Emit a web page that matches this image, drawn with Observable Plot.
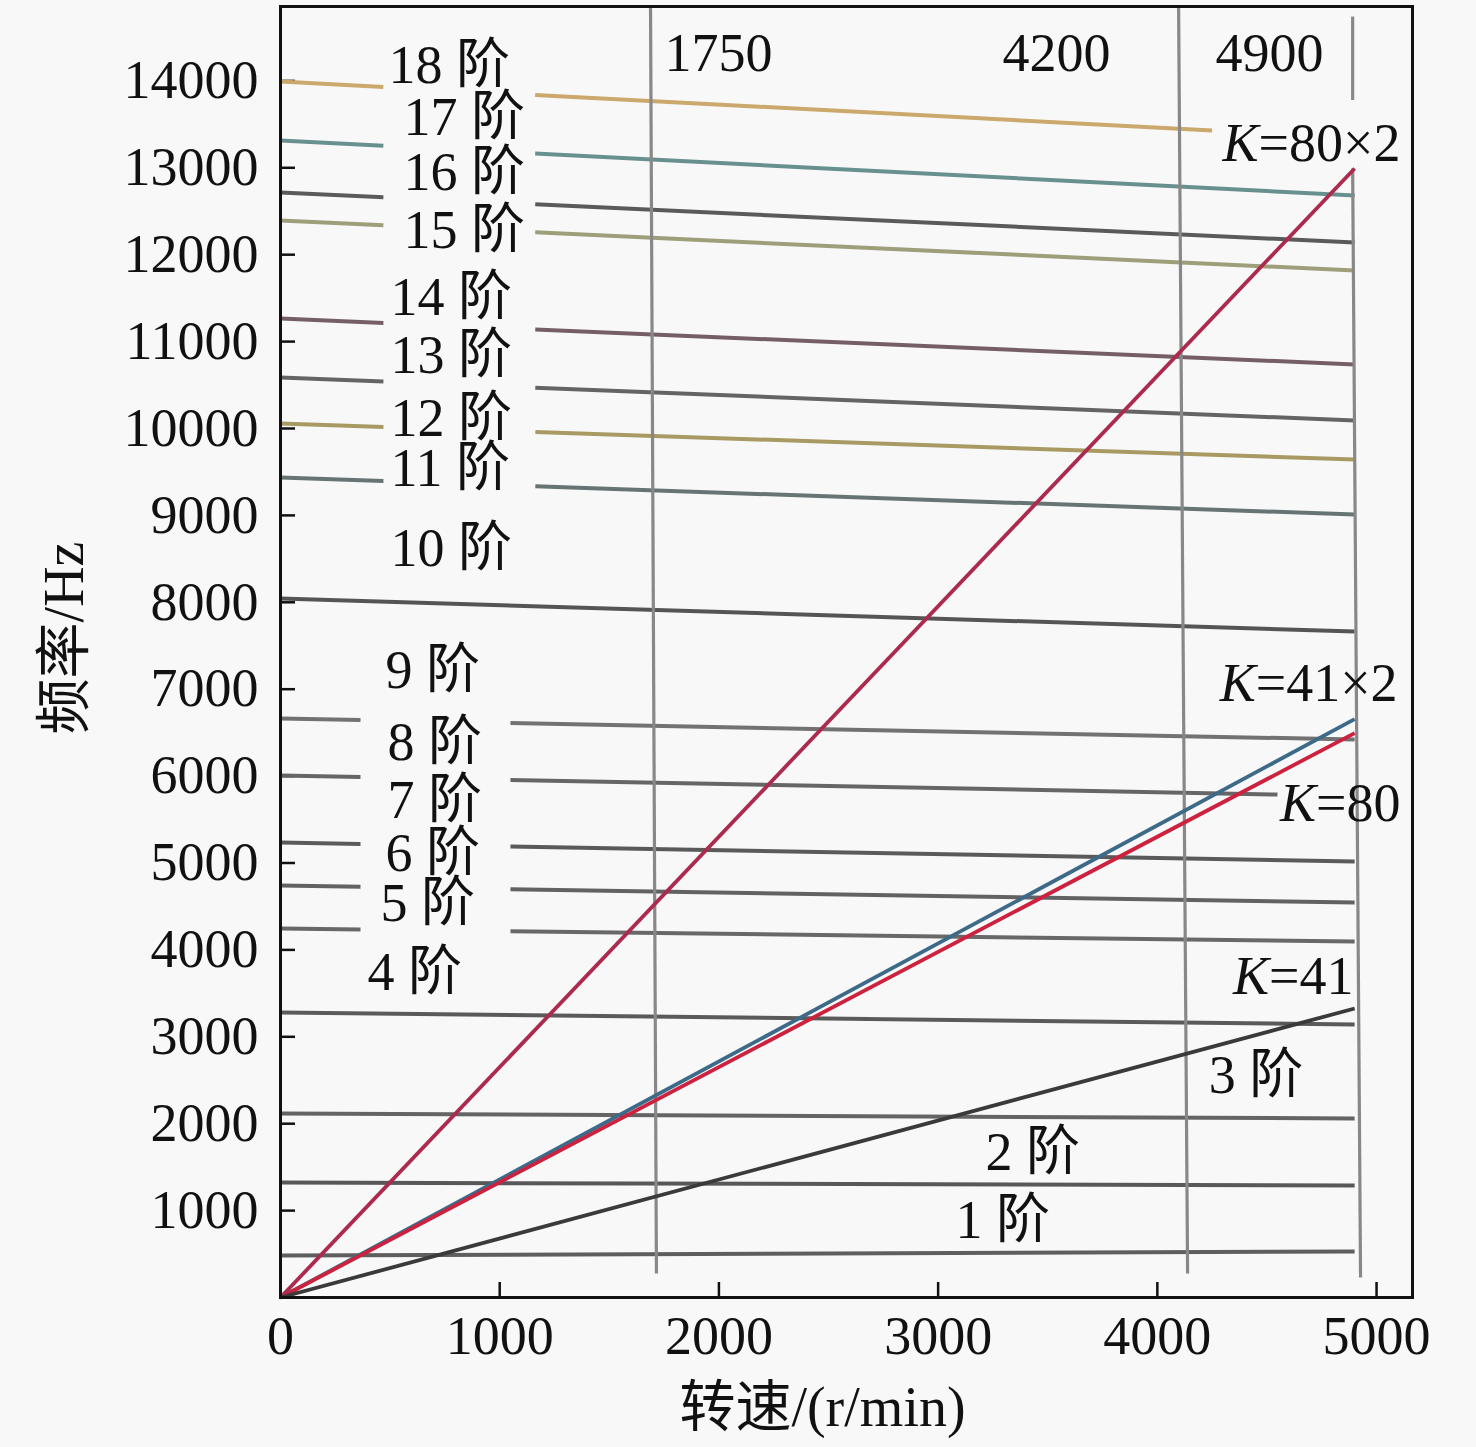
<!DOCTYPE html>
<html><head><meta charset="utf-8">
<script src="https://cdn.jsdelivr.net/npm/d3@7"></script>
<script src="https://cdn.jsdelivr.net/npm/@observablehq/plot@0.6"></script>
<style>body{margin:0;background:#f8f8f8}</style>
</head><body><div id="chart"></div>
<script>
// ---- data ----
const orders = [1,2,3,4,5,6,7,8,9,10,11,12,13,14,15,16,17,18];
const freqAtStart = [483,1323,2117,3280,4246,4741,5236,6007,6663,8044,9436,10058,10587,11266,12394,12716,13314,13993];
const freqAtEnd   = [529,1289,2060,3142,4097,4545,5017,5788,6421,7664,9010,9643,10092,10737,11818,12140,12681,13429];
const startRpm = 0;
const endRpm = [4900,4900,4900,4900,4900,4900,4900,4548,4900,4900,4900,4900,4900,4900,4900,4900,4900,4250];
const gapGroup = ["none","none","none","none","low","low","low","low","low","none","high","high","high","high","high","high","high","high"];
const orderColors = ["#5e5e5e","#585858","#646464","#5a5a5a","#686868","#626262","#5a5a5a","#666666","#727272","#555555","#667474","#a89a62","#646464","#765e66","#9e9e7a","#5a5a5a","#68908f","#cba86c"];
const orderLabelRpm = [3079,3216,4234,397,456,479,488,488,479,502,502,502,502,502,561,561,561,493];
const orderLabelHz  = [886,1669,2555,3740,4534,5109,5719,6387,7215,8619,9540,10115,10840,11508,12279,12946,13579,14177];

const kNames = ["K=80×2","K=41×2","K=80","K=41"];
const kEndRpm = 4900;
const kEndHz = [12992,6655,6495,3326];
const kColors = ["#ac2a4e","#3c6a88","#cc2240","#3a3a3a"];
const kLabelRpm = [5109,5096,5109,4895];
const kLabelHz  = [13280,7066,5685,3694];

const rpmMarkLabels = ["1750","4200","4900"];
const rpmMarkLabelRpm = [1998,3540,4512];
const rpmMarkLabelHz = 14315;
// vertical marker segments (slightly tilted in the picture)
const vRpmBottom = [1715,4138,4927,4891];
const vRpmTop    = [1688,4097,4891,4891];
const vHzBottom  = [276,276,230,13780];
const vHzTop     = [14856,14856,12992,14740];

const xTicks = [0,1000,2000,3000,4000,5000];
const yTicks = [1000,2000,3000,4000,5000,6000,7000,8000,9000,10000,11000,12000,13000,14000];
const xTitle = "转速/(r/min)";
const yTitle = "频率/Hz";

// ---- tables ----
const orderRows = orders.map((o,i)=>({order:o, x1:startRpm, f1:freqAtStart[i], x2:endRpm[i], f2:freqAtEnd[i], g:gapGroup[i], color:orderColors[i]}));
const orderLabels = orders.map((o,i)=>({t:`${o} 阶`, x:orderLabelRpm[i], y:orderLabelHz[i]}));
const kRows = kNames.map((k,i)=>({k, x1:0, f1:0, x2:kEndRpm, f2:kEndHz[i], color:kColors[i]}));
const kLabels = kNames.map((k,i)=>({t:k, x:kLabelRpm[i], y:kLabelHz[i]}));
const vRows = vRpmBottom.map((r,i)=>({x1:r, y1:vHzBottom[i], x2:vRpmTop[i], y2:vHzTop[i]}));
const rpmLabels = rpmMarkLabels.map((t,i)=>({t, x:rpmMarkLabelRpm[i], y:rpmMarkLabelHz}));

const W=1476, H=1447, mL=280, mR=64, mT=6, mB=150;
const pw = W-mL-mR, ph = H-mT-mB;
const fmt = d => String(d);

const chart = Plot.plot({
  width: W, height: H,
  marginLeft: mL, marginRight: mR, marginTop: mT, marginBottom: mB,
  x: {domain: [0, 5164]},
  y: {domain: [0, 14856]},
  color: {type: "identity"},
  style: {background: "#f8f8f8", fontFamily: "'Liberation Serif','Noto Sans CJK SC',serif", fontSize: "54px", color: "#111"},
  marks: [
    Plot.axisX(xTicks, {tickSize: 0, tickPadding: 18, label: null, tickFormat: fmt, fill: "#111"}),
    Plot.axisY(yTicks, {tickSize: 0, tickPadding: 22, label: null, tickFormat: fmt, fill: "#111"}),
    Plot.tickX(xTicks, {x: d=>d, insetTop: ph-15, stroke: "#111", strokeWidth: 2.5}),
    Plot.tickY(yTicks, {y: d=>d, insetRight: pw-15, stroke: "#111", strokeWidth: 2.5}),
    Plot.link(orderRows.filter(d=>d.g==="none"), {x1:"x1", y1:"f1", x2:"x2", y2:"f2", stroke: d=>d.color, strokeWidth: 4}),
    Plot.link(orderRows.filter(d=>d.g==="high"), {x1:"x1", y1:"f1", x2:"x2", y2:"f2", stroke: d=>d.color, strokeWidth: 4, strokeDasharray: "103,152,4000"}),
    Plot.link(orderRows.filter(d=>d.g==="low"), {x1:"x1", y1:"f1", x2:"x2", y2:"f2", stroke: d=>d.color, strokeWidth: 4, strokeDasharray: "80,150,4000"}),
    Plot.link(vRows, {x1:"x1", y1:"y1", x2:"x2", y2:"y2", stroke: "#888888", strokeWidth: 3.2}),
    Plot.link(kRows, {x1:"x1", y1:"f1", x2:"x2", y2:"f2", stroke: d=>d.color, strokeWidth: 3.8}),
    Plot.text(orderLabels, {x:"x", y:"y", text:"t", textAnchor:"start", fill:"#111"}),
    Plot.text(rpmLabels, {x:"x", y:"y", text:"t", textAnchor:"middle", fill:"#111"}),
    Plot.text(kLabels, {x:"x", y:"y", text:"t", textAnchor:"end", fill:"#111"}),
    Plot.text([xTitle], {text: d=>d, frameAnchor:"bottom", textAnchor:"middle", lineAnchor:"middle", dy: 111, dx: -24, fontSize: 56, fill:"#111"}),
    Plot.text([yTitle], {text: d=>d, frameAnchor:"left", textAnchor:"middle", lineAnchor:"middle", dx: -215, dy: -14, rotate: -90, fontSize: 56, fill:"#111"}),
    Plot.frame({stroke:"#111", strokeWidth: 3})
  ]
});

// italic K in the K labels
const ns = "http://www.w3.org/2000/svg";
for (const t of chart.querySelectorAll("text")) {
  const s = t.textContent;
  if (s.startsWith("K=") && t.children.length === 0) {
    t.textContent = "";
    const a = document.createElementNS(ns, "tspan");
    a.setAttribute("font-style", "italic");
    a.textContent = "K";
    t.append(a, s.slice(1));
  }
}
document.getElementById("chart").append(chart);
</script>
</body></html>
